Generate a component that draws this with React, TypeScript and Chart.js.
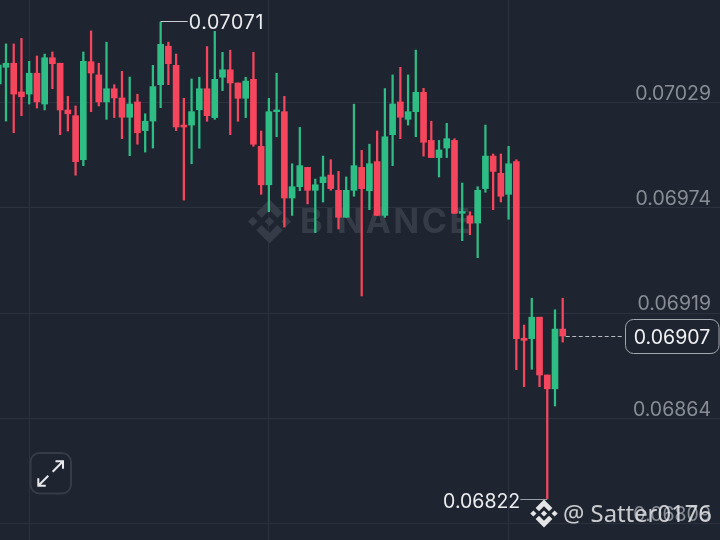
import React, { useEffect, useRef } from "react";
import { Chart, registerables } from "chart.js";

Chart.register(...registerables);

// prices in units of 0.00001
const opens = [7038.7,7047.4,7049.5,7034.5,7033.4,7044.3,7028.2,7052.4,7049.5,7025.1,7022.1,6999.1,7050.3,7043.4,7029.3,7036.2,7031.4,7021.3,7029.3,7014.3,7019.3,7038.3,7058.4,7048.4,7017.2,7017.2,7025.2,7036.2,7021.1,7042.2,7046.1,7039.2,7031.2,7041.1,7006.1,6986.0,7024.2,7024.2,6979.1,6985.0,6995.1,6983.1,6987.1,6991.1,6983.1,6969.0,6983.1,6995.1,6982.9,6998.1,6970.0,7012.2,7029.3,7020.2,7024.2,7034.3,7009.2,7000.2,7005.2,7009.2,6971.1,6969.8,6966.0,6984.0,7001.0,6992.0,6981.0,6998.1,6905.8,6905.6,6916.8,6886.6,6879.4,6910.6];
const highs = [7056.4,7059.6,7059.6,7062.5,7050.5,7053.3,7054.3,7055.4,7049.5,7032.2,7027.2,7055.4,7066.4,7049.5,7060.5,7038.3,7045.3,7042.3,7033.3,7023.1,7048.4,7071.0,7060.5,7054.3,7031.2,7041.3,7042.2,7058.2,7066.2,7055.2,7056.3,7039.2,7042.2,7055.2,7014.1,7031.2,7044.3,7032.2,6997.0,7016.0,6995.1,6989.0,7001.0,6999.1,6993.0,6990.1,7028.1,7004.0,7007.2,7014.1,7036.3,7043.4,7047.4,7043.4,7056.4,7036.4,7019.2,7009.2,7018.1,7010.1,6986.9,6971.9,6985.0,7017.2,7002.1,7002.1,7006.1,6999.1,6912.7,6926.7,6916.8,6886.6,6920.7,6926.7];
const lows = [7038.2,7019.3,7013.2,7022.1,7028.2,7026.1,7025.1,7036.2,7012.2,7014.1,6991.0,6996.0,7024.2,7027.2,7020.2,7021.1,7010.1,7001.2,7007.2,7003.1,7005.2,7026.3,7038.3,7014.3,6978.0,6997.0,7005.1,7019.2,7020.2,7035.2,7012.2,7019.2,7021.1,7006.1,6981.0,6971.9,7011.1,6963.9,6970.0,6982.9,6976.0,6961.0,6977.0,6983.1,6962.9,6969.0,6980.0,6927.9,6973.0,6970.0,6969.0,6996.0,7010.1,7017.2,7011.1,7001.0,7000.2,6990.1,7000.2,6971.1,6956.8,6959.9,6947.9,6982.1,6973.0,6977.0,6968.0,6889.4,6880.5,6889.6,6880.5,6822.0,6870.4,6903.8];
const closes = [7048.6,7049.5,7033.4,7032.0,7044.3,7029.3,7052.4,7049.3,7025.1,7023.1,6998.1,7050.5,7044.4,7029.3,7036.2,7031.4,7021.3,7028.2,7013.2,7019.2,7037.3,7059.4,7049.3,7016.2,7016.2,7024.2,7036.2,7022.1,7041.1,7046.1,7039.2,7031.2,7040.2,7007.2,6986.0,7024.2,7025.1,6979.1,6985.0,6996.0,6983.1,6986.0,6990.1,6984.0,6969.0,6983.1,6996.0,6984.0,6997.0,6970.0,7011.1,7028.2,7021.3,7024.2,7034.3,7008.2,7000.2,7004.2,7010.1,6971.1,6972.0,6965.9,6983.1,7001.0,6993.0,6980.0,6997.0,6905.6,6904.7,6916.8,6886.6,6879.4,6910.6,6907.0];

const priceTicks = [0.07029, 0.06974, 0.06919, 0.06864, 0.06809];
const gridCandles = [4, 35, 66];
const highIndex = 21;
const lowIndex = 71;
const lastIndex = 73;
const highLabel = "0.07071";
const lowLabel = "0.06822";
const lastLabel = "0.06907";
const exchangeName = "BINANCE";
const credit = "@ Satter0176";

const BG = "#1f2530";
const GRID = "#2c323d";
const RED = "#f6465d";
const GREEN = "#2ebd85";
const NUM_FONT = "19.5px Inter";

const toPrice = (v: number) => v / 1e5;
const colors = opens.map((o, i) => (closes[i] >= o ? GREEN : RED));

function logo(ctx: CanvasRenderingContext2D, cx: number, cy: number, r: number, color: string) {
  const shape = (pts: number[][]) => {
    ctx.beginPath();
    pts.forEach(([x, y], i) => (i ? ctx.lineTo(cx + x * r, cy + y * r) : ctx.moveTo(cx + x * r, cy + y * r)));
    ctx.closePath();
    ctx.fill();
  };
  const diamond = (x: number, y: number, h: number) =>
    shape([[x, y - h], [x + h, y], [x, y + h], [x - h, y]]);
  ctx.fillStyle = color;
  diamond(0, 0, 0.22);
  diamond(-0.76, 0, 0.22);
  diamond(0.76, 0, 0.22);
  shape([[0, -1], [0.6, -0.4], [0.36, -0.16], [0, -0.52], [-0.36, -0.16], [-0.6, -0.4]]);
  shape([[0, 1], [0.6, 0.4], [0.36, 0.16], [0, 0.52], [-0.36, 0.16], [-0.6, 0.4]]);
}

function arrow(ctx: CanvasRenderingContext2D, x0: number, y0: number, x1: number, y1: number) {
  const dx = Math.sign(x1 - x0);
  const dy = Math.sign(y1 - y0);
  ctx.beginPath();
  ctx.moveTo(x0, y0);
  ctx.lineTo(x1, y1);
  ctx.moveTo(x1 - dx * 7.5, y1);
  ctx.lineTo(x1, y1);
  ctx.lineTo(x1, y1 - dy * 7.5);
  ctx.stroke();
}

const underlay = {
  id: "underlay",
  beforeDatasetsDraw(chart: any) {
    const ctx = chart.ctx as CanvasRenderingContext2D;
    ctx.save();
    logo(ctx, 269.5, 221.5, 22, "#363c47");
    ctx.fillStyle = "#363c47";
    ctx.font = "700 34px Inter";
    (ctx as any).letterSpacing = "2.5px";
    ctx.textAlign = "left";
    ctx.textBaseline = "alphabetic";
    ctx.fillText(exchangeName, 300, 233);
    ctx.restore();
  },
};

const overlay = {
  id: "overlay",
  afterDraw(chart: any) {
    const ctx = chart.ctx as CanvasRenderingContext2D;
    const x = chart.scales.x;
    const y = chart.scales.y;
    ctx.save();

    // high marker
    const hx = x.getPixelForValue(highIndex);
    const hy = Math.round(y.getPixelForValue(toPrice(highs[highIndex]))) - 0.5;
    ctx.strokeStyle = "#c9ccd1";
    ctx.lineWidth = 1;
    ctx.beginPath();
    ctx.moveTo(hx, hy);
    ctx.lineTo(hx + 27, hy);
    ctx.stroke();
    ctx.fillStyle = "#eaecef";
    ctx.font = NUM_FONT;
    ctx.textBaseline = "middle";
    ctx.textAlign = "left";
    (ctx as any).letterSpacing = "0.7px";
    ctx.fillText(highLabel, hx + 28, hy + 2);
    (ctx as any).letterSpacing = "0px";

    // low marker
    const lx = x.getPixelForValue(lowIndex);
    const ly = Math.round(y.getPixelForValue(toPrice(lows[lowIndex]))) + 0.5;
    ctx.strokeStyle = "#9a9ea6";
    ctx.beginPath();
    ctx.moveTo(lx, ly);
    ctx.lineTo(lx - 27, ly);
    ctx.stroke();
    ctx.textAlign = "right";
    ctx.fillText(lowLabel, lx - 27, ly + 3);

    // last price line and box
    const py = Math.round(y.getPixelForValue(toPrice(closes[lastIndex]))) + 0.5;
    ctx.strokeStyle = "#b9bcc2";
    ctx.setLineDash([4, 2.5]);
    ctx.beginPath();
    ctx.moveTo(x.getPixelForValue(lastIndex) + 3, py);
    ctx.lineTo(623, py);
    ctx.stroke();
    ctx.setLineDash([]);
    ctx.beginPath();
    ctx.roundRect(625.5, 319.5, 93.5, 34, 8);
    ctx.fillStyle = BG;
    ctx.fill();
    ctx.strokeStyle = "#a3a7ae";
    ctx.stroke();
    ctx.fillStyle = "#f0f1f3";
    ctx.textAlign = "center";
    ctx.fillText(lastLabel, 672, 338);

    // expand button
    ctx.beginPath();
    ctx.roundRect(30.5, 453, 40.5, 40.5, 9);
    ctx.strokeStyle = "#363c47";
    ctx.lineWidth = 2;
    ctx.stroke();
    ctx.strokeStyle = "#e6e8ea";
    ctx.lineWidth = 2;
    arrow(ctx, 52.7, 471.7, 63, 461.3);
    arrow(ctx, 48.3, 475.7, 38.3, 485.7);

    // credit
    logo(ctx, 544, 513.5, 14, "#e4e5e7");
    ctx.fillStyle = "rgba(232,233,235,0.85)";
    ctx.font = '23.8px "Noto Sans"';
    ctx.textAlign = "left";
    ctx.textBaseline = "alphabetic";
    ctx.fillText(credit, 563, 522);
    ctx.restore();
  },
};

export default function App() {
  const ref = useRef<HTMLCanvasElement>(null);
  useEffect(() => {
    document.body.style.margin = "0";
    document.body.style.background = BG;
    const chart = new Chart(ref.current!, {
      type: "bar",
      data: {
        datasets: [
          {
            label: "wick",
            data: opens.map((_, i) => ({ x: i, y: [toPrice(lows[i]), toPrice(highs[i])] })),
            backgroundColor: colors,
            barThickness: 1.6,
            order: 2,
          },
          {
            label: "body",
            data: opens.map((o, i) => ({ x: i, y: [toPrice(o), toPrice(closes[i])] })),
            backgroundColor: colors,
            barThickness: 6,
            order: 1,
          },
        ] as any,
      },
      options: {
        responsive: false,
        devicePixelRatio: 1,
        animation: false,
        grouped: false,
        layout: { padding: 0 },
        plugins: { legend: { display: false }, tooltip: { enabled: false } },
        events: [],
        scales: {
          x: {
            type: "linear",
            offset: false,
            min: 0.224,
            max: 93.34,
            afterBuildTicks: (s: any) => {
              s.ticks = gridCandles.map((value) => ({ value }));
            },
            afterFit: (s: any) => {
              s.height = 0;
            },
            ticks: { display: false },
            grid: { color: GRID, drawTicks: false, offset: false },
            border: { display: false },
          },
          y: {
            position: "right",
            min: 0.0680038,
            max: 0.0708256,
            afterBuildTicks: (s: any) => {
              s.ticks = priceTicks.map((value) => ({ value }));
            },
            afterFit: (s: any) => {
              s.width = 0;
              s.paddingTop = 0;
              s.paddingBottom = 0;
            },
            ticks: {
              mirror: true,
              padding: -9,
              labelOffset: -8.5,
              color: "#878c95",
              font: { family: "Inter", size: 19.5 },
              autoSkip: false,
              callback: (v: any) => Number(v).toFixed(5),
            },
            grid: { color: GRID, drawTicks: false },
            border: { display: false },
          },
        },
      } as any,
      plugins: [underlay, overlay],
    });
    return () => chart.destroy();
  }, []);
  return (
    <canvas
      ref={ref}
      width={720}
      height={540}
      style={{ position: "fixed", left: 0, top: 0, width: 720, height: 540, display: "block" }}
    />
  );
}
